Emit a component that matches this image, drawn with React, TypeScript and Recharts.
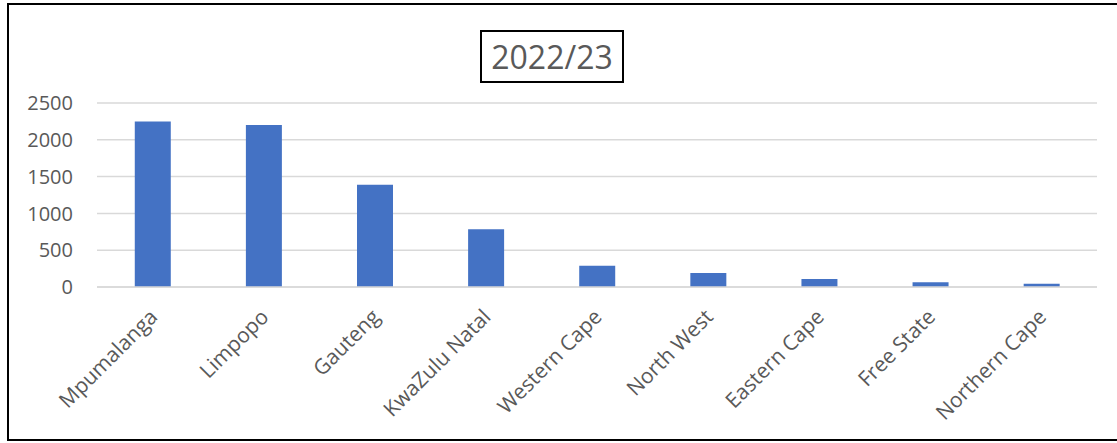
import React from 'react';
import { BarChart, Bar, CartesianGrid, XAxis, YAxis } from 'recharts';

const provinces = [
  'Mpumalanga',
  'Limpopo',
  'Gauteng',
  'KwaZulu Natal',
  'Western Cape',
  'North West',
  'Eastern Cape',
  'Free State',
  'Northern Cape',
];
const values2022 = [2250, 2200, 1390, 785, 290, 190, 110, 65, 45];
const yTicks = [0, 500, 1000, 1500, 2000, 2500];
const chartTitle = '2022/23';

const data = provinces.map((name, i) => ({ name, value: values2022[i] }));

const FONT = '"Open Sans", "Noto Sans", sans-serif';
const GREY = '#595959';

// rotated category label, end of text pinned just below the tick
const SlantTick = (props: any) => {
  const { x, y, payload } = props;
  return (
    <g transform={`translate(${x + 1},${y + 18})`}>
      <text
        x={0}
        y={0}
        dy="0.35em"
        textAnchor="end"
        transform="rotate(-45)"
        fill={GREY}
        fontSize={21}
        fontFamily={FONT}
      >
        {payload.value}
      </text>
    </g>
  );
};

const App: React.FC = () => {
  return (
    <div
      style={{
        position: 'absolute',
        left: 0,
        top: 0,
        width: 1117,
        height: 443,
        background: '#fff',
        overflow: 'hidden',
        fontFamily: FONT,
      }}
    >
      {/* outer frame, open on the right like the source crop */}
      <div
        style={{
          position: 'absolute',
          left: 7,
          top: 3,
          width: 1130,
          height: 434,
          borderTop: '2px solid #000',
          borderBottom: '2px solid #000',
          borderLeft: '2px solid #000',
        }}
      />
      <BarChart
        width={1117}
        height={443}
        data={data}
        margin={{ top: 103, right: 20, bottom: 0, left: 0 }}
        barCategoryGap="34%"
        style={{ position: 'absolute', left: 0, top: 0 }}
      >
        <CartesianGrid vertical={false} stroke="#d9d9d9" strokeWidth={1.5} />
        <XAxis
          dataKey="name"
          height={156}
          interval={0}
          axisLine={{ stroke: '#d9d9d9', strokeWidth: 1.5 }}
          tickLine={false}
          tick={<SlantTick />}
        />
        <YAxis
          width={97}
          domain={[0, 2500]}
          ticks={yTicks}
          axisLine={false}
          tickLine={false}
          tickSize={0}
          tickMargin={24}
          tick={{ fill: GREY, fontSize: 20, fontFamily: FONT }}
        />
        <Bar dataKey="value" fill="#4472c4" isAnimationActive={false} />
      </BarChart>
      {/* title box */}
      <div
        style={{
          position: 'absolute',
          left: 480,
          top: 30,
          width: 140,
          height: 49,
          border: '2px solid #000',
          display: 'flex',
          alignItems: 'center',
          justifyContent: 'center',
          color: GREY,
          fontSize: 32,
          lineHeight: 1,
          background: '#fff',
        }}
      >
        {chartTitle}
      </div>
    </div>
  );
};

export default App;
